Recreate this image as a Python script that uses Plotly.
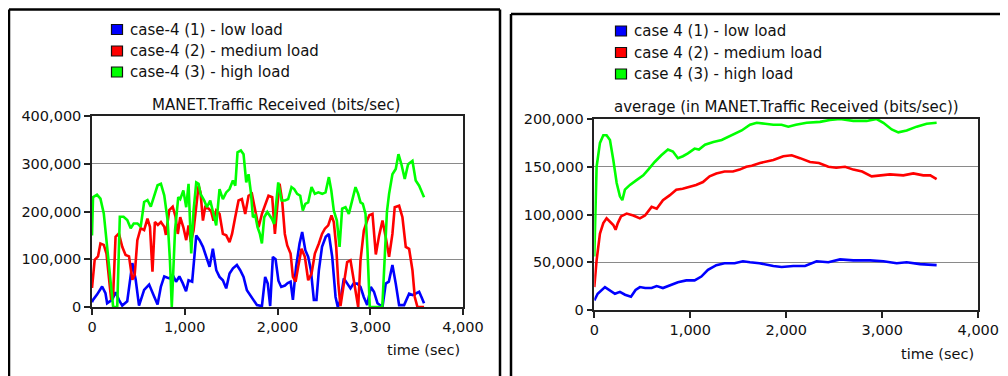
import plotly.graph_objects as go

# ---------------- data ----------------
series_names_left = ["case-4 (1) - low load", "case-4 (2) - medium load", "case-4 (3) - high load"]
series_names_right = ["case 4 (1) - low load", "case 4 (2) - medium load", "case 4 (3) - high load"]
series_colors = ["#0000FF", "#FF0000", "#00FF00"]

title_left = "MANET.Traffic Received (bits/sec)"
title_right = "average (in MANET.Traffic Received (bits/sec))"
x_title = "time (sec)"

x_ticks = [0, 1000, 2000, 3000, 4000]
y_ticks_left = [0, 100000, 200000, 300000, 400000]
y_ticks_right = [0, 50000, 100000, 150000, 200000]

# left chart: traffic received (bits/sec)
low_t = [0, 11, 54, 109, 145, 163, 217, 254, 290, 326, 380, 435, 471, 507, 562, 616, 670, 707, 743, 779,
         833, 870, 906, 942, 978, 1014, 1041, 1080, 1124, 1160, 1196, 1232, 1268, 1303, 1340, 1375, 1411, 1447, 1483, 1520,
         1562, 1598, 1634, 1670, 1706, 1742, 1778, 1832, 1867, 1895, 1921, 1950, 1979, 2010, 2040, 2080, 2110, 2141, 2166, 2200,
         2238, 2266, 2300, 2331, 2360, 2392, 2420, 2446, 2480, 2520, 2554, 2590, 2626, 2650, 2680, 2715, 2750, 2787, 2820, 2860,
         2895, 2930, 2967, 3006, 3040, 3078, 3132, 3167, 3200, 3239, 3275, 3311, 3365, 3419, 3455, 3490, 3527, 3552, 3580]
low_v = [10000, 15000, 26000, 43000, 29000, 8000, 15000, 31000, 15000, 3000, 12000, 92000, 57000, 3000, 36000, 47000, 22000, 5000, 43000, 64000,
         60000, 67000, 53000, 64000, 50000, 33000, 56000, 53000, 150000, 140000, 126000, 105000, 84000, 122000, 77000, 63000, 56000, 39000, 70000, 81000,
         88000, 77000, 63000, 35000, 25000, 15000, 4000, 2000, 63000, 49000, 2000, 105000, 100000, 55000, 42000, 45000, 50000, 53000, 15000, 84000,
         133000, 157000, 119000, 105000, 77000, 15000, 15000, 77000, 126000, 147000, 153000, 105000, 21000, 0, 15000, 60000, 49000, 39000, 49000, 49000,
         42000, 21000, 4000, 42000, 32000, 8000, 0, 49000, 53000, 88000, 49000, 4000, 4000, 28000, 25000, 28000, 32000, 21000, 8000]

med_t = [0, 29, 65, 91, 127, 156, 181, 207, 228, 254, 290, 326, 362, 399, 435, 460, 489, 525, 562, 598,
         625, 652, 678, 710, 743, 779, 797, 833, 870, 900, 925, 951, 985, 1016, 1041, 1066, 1095, 1124, 1149, 1170,
         1196, 1220, 1257, 1285, 1310, 1339, 1375, 1411, 1447, 1483, 1510, 1544, 1580, 1616, 1652, 1688, 1724, 1760, 1796, 1832,
         1867, 1903, 1943, 1972, 2000, 2022, 2050, 2079, 2105, 2141, 2166, 2195, 2223, 2259, 2295, 2331, 2367, 2403, 2446, 2480,
         2511, 2547, 2582, 2607, 2633, 2656, 2679, 2715, 2751, 2787, 2816, 2843, 2870, 2895, 2931, 2967, 2990, 3024, 3060, 3096,
         3132, 3167, 3203, 3239, 3264, 3311, 3347, 3383, 3419, 3455, 3480, 3509, 3580]
med_v = [40000, 99000, 106000, 133000, 130000, 112000, 64000, 15000, 25000, 147000, 154000, 126000, 109000, 106000, 57000, 67000, 140000, 165000, 161000, 185000,
         168000, 74000, 178000, 172000, 178000, 168000, 151000, 203000, 210000, 190000, 153000, 188000, 167000, 140000, 171000, 136000, 160000, 216000, 254000, 240000,
         181000, 209000, 206000, 200000, 181000, 202000, 195000, 153000, 150000, 136000, 153000, 188000, 223000, 226000, 195000, 233000, 237000, 202000, 167000, 195000,
         212000, 233000, 230000, 153000, 216000, 258000, 223000, 153000, 129000, 112000, 63000, 53000, 84000, 122000, 105000, 56000, 70000, 112000, 133000, 153000,
         164000, 171000, 192000, 178000, 126000, 49000, 2000, 49000, 94000, 98000, 63000, 35000, 0, 98000, 160000, 181000, 192000, 195000, 110000, 150000,
         181000, 146000, 105000, 153000, 209000, 212000, 188000, 126000, 122000, 77000, 21000, 0, 0]

high_t = [0, 11, 54, 91, 127, 163, 199, 228, 272, 300, 340, 380, 417, 450, 490, 525, 562, 598, 634, 670,
          707, 743, 779, 815, 840, 860, 895, 930, 951, 985, 1016, 1041, 1070, 1095, 1124, 1149, 1170, 1210, 1239, 1275,
          1303, 1339, 1375, 1411, 1447, 1483, 1519, 1545, 1569, 1605, 1634, 1663, 1688, 1713, 1735, 1760, 1785, 1810, 1832, 1857,
          1890, 1939, 1964, 2008, 2044, 2080, 2115, 2151, 2180, 2212, 2245, 2273, 2300, 2331, 2367, 2403, 2440, 2482, 2518, 2554,
          2580, 2607, 2640, 2669, 2697, 2733, 2769, 2805, 2841, 2870, 2895, 2920, 2949, 2970, 2995, 3130, 3155, 3180, 3203, 3239,
          3275, 3304, 3336, 3372, 3408, 3455, 3490, 3527, 3580]
high_v = [150000, 230000, 235000, 227000, 196000, 126000, 43000, 0, 0, 189000, 189000, 182000, 165000, 175000, 175000, 168000, 220000, 224000, 210000, 231000,
          255000, 258000, 234000, 182000, 99000, 0, 160000, 230000, 226000, 244000, 209000, 258000, 112000, 202000, 261000, 258000, 237000, 223000, 209000, 223000,
          202000, 171000, 247000, 226000, 240000, 247000, 265000, 254000, 324000, 328000, 320000, 261000, 278000, 240000, 188000, 192000, 167000, 153000, 133000, 188000,
          199000, 185000, 174000, 261000, 223000, 223000, 226000, 251000, 247000, 237000, 233000, 202000, 216000, 219000, 251000, 237000, 240000, 237000, 240000, 272000,
          244000, 202000, 181000, 126000, 206000, 209000, 195000, 226000, 251000, 237000, 219000, 216000, 195000, 120000, 0, 0, 100000, 200000, 237000, 278000,
          289000, 320000, 299000, 268000, 299000, 306000, 265000, 254000, 230000]

# right chart: running average of traffic received (bits/sec)
avg_low_t = [0, 35, 111, 160, 215, 267, 320, 382, 430, 475, 530, 597, 650, 715, 802, 871, 958, 1045, 1115, 1184,
             1271, 1357, 1462, 1548, 1622, 1720, 1865, 1952, 2073, 2195, 2316, 2438, 2560, 2698, 2872, 3011, 3150, 3254, 3393, 3566]
avg_low_v = [10000, 17000, 24000, 21000, 17000, 19000, 16000, 14000, 21000, 24000, 23000, 23000, 25000, 23000, 26000, 29000, 31000, 31000, 35000, 42000,
             47000, 49000, 49000, 51000, 50000, 49000, 46000, 45000, 46000, 46000, 51000, 50000, 53000, 52000, 52000, 51000, 49000, 50000, 48000, 47000]

avg_med_t = [0, 24, 59, 94, 128, 163, 198, 222, 245, 278, 337, 406, 475, 528, 597, 650, 715, 784, 854, 920,
             993, 1060, 1132, 1201, 1271, 1357, 1444, 1514, 1583, 1640, 1726, 1865, 1969, 2056, 2143, 2247, 2340, 2438, 2520, 2612,
             2698, 2790, 2889, 2976, 3080, 3219, 3323, 3427, 3500, 3566]
avg_med_v = [24000, 52000, 80000, 91000, 96000, 92000, 89000, 84000, 91000, 98000, 101000, 99000, 96000, 99000, 108000, 106000, 115000, 120000, 126000, 127000,
             129000, 131000, 134000, 140000, 143000, 145000, 145000, 147000, 150000, 151000, 154000, 157000, 161000, 162000, 159000, 155000, 154000, 150000, 149000, 150000,
             147000, 145000, 140000, 141000, 142000, 141000, 143000, 141000, 141000, 137000]

avg_high_t = [0, 24, 59, 94, 128, 163, 198, 233, 267, 292, 319, 371, 440, 510, 562, 629, 698, 767, 819, 871,
              923, 975, 1045, 1090, 1153, 1240, 1327, 1431, 1535, 1622, 1692, 1780, 1865, 1950, 2021, 2100, 2212, 2351, 2455, 2560,
              2698, 2837, 2941, 3011, 3098, 3167, 3254, 3358, 3462, 3566]
avg_high_v = [56000, 150000, 175000, 183000, 183000, 178000, 157000, 133000, 119000, 115000, 126000, 131000, 136000, 141000, 147000, 155000, 162000, 168000, 166000, 159000,
              161000, 164000, 169000, 168000, 173000, 176000, 178000, 183000, 188000, 194000, 196000, 195000, 194000, 194000, 192000, 194000, 196000, 197000, 199000, 200000,
              198000, 198000, 200000, 196000, 189000, 186000, 188000, 192000, 195000, 196000]

# ---------------- figure ----------------
# the page body has an 8px margin, so the figure is 8px smaller than the
# window on each axis and all layout positions are measured in window pixels
OFF = 8
W, H = 1008 - OFF, 376 - OFF
FONT = "DejaVu Sans"

def px(x):
    return (x - OFF) / W

def py(y):
    return 1 - (y - OFF) / H

fig = go.Figure()

left_series = [(low_t, low_v), (med_t, med_v), (high_t, high_v)]
right_series = [(avg_low_t, avg_low_v), (avg_med_t, avg_med_v), (avg_high_t, avg_high_v)]

for (t, v), name, col in zip(left_series, series_names_left, series_colors):
    fig.add_trace(go.Scatter(x=t, y=v, mode="lines", name=name, showlegend=False,
                             line=dict(color=col, width=2.6), xaxis="x", yaxis="y"))
for (t, v), name, col in zip(right_series, series_names_right, series_colors):
    fig.add_trace(go.Scatter(x=t, y=v, mode="lines", name=name, showlegend=False,
                             line=dict(color=col, width=2.6), xaxis="x2", yaxis="y2"))

def xaxis(domain, anchor):
    return dict(domain=domain, anchor=anchor, range=[0, 4000], tickvals=x_ticks, tickformat=",",
                automargin=False,
                showgrid=False, zeroline=False, showline=True, linecolor="#222", linewidth=1.5,
                mirror=True, ticks="outside", ticklen=6, tickcolor="#222", tickwidth=1.5,
                tickfont=dict(family=FONT, size=14.5, color="#111"))

def yaxis(domain, anchor, rng, vals):
    return dict(domain=domain, anchor=anchor, range=rng, tickvals=vals, tickformat=",",
                automargin=False,
                showgrid=True, gridcolor="#8a8a8a", gridwidth=1.3, zeroline=False,
                showline=True, linecolor="#222", linewidth=1.5, mirror=True,
                ticks="outside", ticklen=6, tickcolor="#222", tickwidth=1.5,
                tickfont=dict(family=FONT, size=14.5, color="#111"))

fig.update_layout(
    template="none",
    width=W, height=H,
    autosize=False,
    margin=dict(l=0, r=0, t=0, b=0, pad=0, autoexpand=False),
    paper_bgcolor="white", plot_bgcolor="white",
    showlegend=False,
    xaxis=xaxis([px(92), px(463)], "y"),
    yaxis=yaxis([py(307), py(116)], "x", [0, 400000], y_ticks_left),
    xaxis2=xaxis([px(594.3), px(978.3)], "y2"),
    yaxis2=yaxis([py(310), py(119)], "x2", [0, 200000], y_ticks_right),
    font=dict(family=FONT, color="#111"),
)

shapes = []
annotations = []

# panel frames
frame = dict(type="line", xref="paper", yref="paper", line=dict(color="black", width=2.5))
shapes += [
    dict(frame, x0=px(9), x1=px(9), y0=0, y1=py(9.5)),
    dict(frame, x0=px(9), x1=px(500), y0=py(9.5), y1=py(9.5)),
    dict(frame, x0=px(500), x1=px(500), y0=0, y1=py(9.5)),
    dict(frame, x0=px(511), x1=px(511), y0=0, y1=py(14)),
    dict(frame, x0=px(511), x1=1, y0=py(14), y1=py(14)),
]

# chart titles
annotations.append(dict(text=title_left, x=px(276), y=py(105), xref="paper", yref="paper",
                        showarrow=False, xanchor="center", yanchor="middle",
                        font=dict(family=FONT, size=15, color="#111")))
annotations.append(dict(text=title_right, x=px(786.5), y=py(107), xref="paper", yref="paper",
                        showarrow=False, xanchor="center", yanchor="middle",
                        font=dict(family=FONT, size=15, color="#111")))

# x-axis titles
annotations.append(dict(text=x_title, x=px(423), y=py(350), xref="paper", yref="paper",
                        showarrow=False, xanchor="center", yanchor="middle",
                        font=dict(family=FONT, size=14.5, color="#111")))
annotations.append(dict(text=x_title, x=px(937), y=py(354), xref="paper", yref="paper",
                        showarrow=False, xanchor="center", yanchor="middle",
                        font=dict(family=FONT, size=14.5, color="#111")))

# manual legends
def add_legend(names, sq_x, text_x, rows_y):
    for name, col, ry in zip(names, series_colors, rows_y):
        shapes.append(dict(type="rect", xref="paper", yref="paper",
                           x0=px(sq_x), x1=px(sq_x + 11), y0=py(ry + 5), y1=py(ry - 5),
                           fillcolor=col, line=dict(color="#111", width=1.2)))
        annotations.append(dict(text=name, x=px(text_x), y=py(ry), xref="paper", yref="paper",
                                showarrow=False, xanchor="left", yanchor="middle",
                                font=dict(family=FONT, size=15, color="#111")))

add_legend(series_names_left, 111.5, 128, [29.5, 51, 72])
add_legend(series_names_right, 615.5, 632, [31, 52.5, 74])

fig.update_layout(shapes=shapes, annotations=annotations)

fig.write_html("out.html")
